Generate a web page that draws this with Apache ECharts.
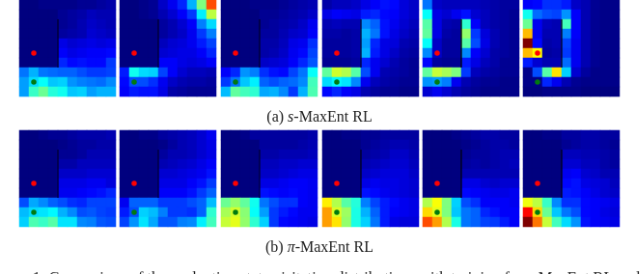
<!DOCTYPE html>
<html><head><meta charset="utf-8">
<script src="https://cdn.jsdelivr.net/npm/echarts@6/dist/echarts.min.js"></script>
<style>html,body{margin:0;padding:0;background:#fff;overflow:hidden;width:640px;height:274px}#c{width:664px;height:284px;transform:scale(0.965);transform-origin:0 0;filter:blur(0.3px)}</style>
</head><body><div id="c"></div>
<script>
const cols=[0,1,2,3,4,5,6,7,8,9];
const rows=[0,1,2,3,4,5,6,7,8,9];
const jet=['#00007f','#0000ff','#007fff','#00ffff','#7fff7f','#ffff00','#ff7f00','#ff0000','#7f0000'];
const sMaxEnt1=[[0,0,.01,.01,.01,.01,.02,.02,.03,.04],[0,0,0,0,.02,.03,.04,.06,.05,.05],[0,0,0,0,.02,.03,.05,.07,.06,.05],[0,0,0,0,.03,.04,.05,.08,.07,.06],[0,0,0,0,.1,.08,.09,.1,.09,.1],[0,0,0,0,.12,.1,.11,.12,.12,.13],[0,0,0,0,.16,.13,.14,.13,.13,.18],[.24,.3,.24,.23,.22,.22,.2,.18,.18,.19],[.28,.34,.38,.32,.33,.27,.25,.24,.23,.26],[.28,.43,.48,.41,.39,.32,.33,.28,.3,.3]];
const sMaxEnt2=[[0,0,.01,.02,.07,.11,.16,.3,.5,.8],[0,0,.01,.02,.05,.08,.12,.18,.36,.56],[0,0,0,0,.03,.05,.08,.12,.25,.34],[0,0,0,0,.03,.05,.07,.11,.18,.25],[0,0,0,0,.06,.08,.09,.11,.15,.19],[0,0,0,0,.08,.09,.1,.1,.12,.16],[0,0,0,0,.12,.12,.1,.09,.1,.12],[.15,.39,.34,.33,.19,.12,.08,.06,.06,.05],[.13,.2,.2,.17,.11,.07,.05,.04,.04,.03],[.12,.15,.14,.14,.1,.04,.03,.02,.02,.02]];
const sMaxEnt3=[[0,0,0,.01,.01,.01,.02,.03,.04,.05],[0,0,0,0,.02,.02,.03,.04,.05,.07],[0,0,0,0,.02,.03,.04,.05,.07,.11],[0,0,0,0,.03,.03,.05,.07,.08,.12],[0,0,0,0,.04,.04,.06,.1,.11,.17],[0,0,0,0,.04,.05,.07,.11,.13,.19],[0,0,0,0,.07,.08,.09,.12,.16,.21],[.12,.16,.27,.25,.17,.14,.13,.19,.24,.38],[.18,.24,.32,.36,.22,.2,.22,.23,.26,.44],[.31,.47,.44,.42,.29,.3,.26,.18,.3,.45]];
const sMaxEnt4=[[.04,.06,.06,.07,.1,.12,.14,.13,.09,.07],[.1,.12,.11,.1,.15,.16,.13,.12,.09,.07],[.05,.06,.05,.05,.26,.22,.14,.11,.08,.06],[.04,.04,.03,.04,.3,.24,.14,.1,.07,.05],[.03,.03,.03,.04,.28,.16,.1,.09,.05,.04],[.03,.03,.03,.04,.3,.15,.1,.07,.04,.03],[.02,.02,.02,.03,.16,.11,.08,.05,.03,.02],[.47,.58,.55,.46,.2,.11,.05,.04,.03,.02],[.34,.37,.35,.26,.11,.06,.04,.03,.02,.02],[.13,.16,.12,.1,.05,.03,.02,.02,.01,.01]];
const sMaxEnt5=[[.24,.07,.06,.06,.06,.06,.05,.04,.03,.03],[.38,.1,.08,.11,.14,.08,.06,.04,.03,.02],[.46,.1,.05,.04,.42,.12,.06,.04,.03,.02],[.47,.1,.04,.03,.52,.18,.09,.05,.03,.02],[.38,.07,.03,.03,.46,.2,.1,.05,.03,.02],[.26,.07,.03,.03,.26,.12,.08,.04,.03,.02],[.13,.03,.02,.02,.15,.1,.06,.04,.02,.02],[.47,.57,.54,.5,.18,.06,.04,.03,.02,.02],[.27,.28,.25,.11,.05,.03,.02,.02,.01,.01],[.08,.11,.08,.05,.03,.02,.01,.01,.01,.01]];
const sMaxEnt6=[[.12,.13,.17,.17,.15,.07,.05,.02,.01,.01],[.39,.23,.2,.19,.27,.12,.05,.02,.01,.01],[.48,.11,.06,.05,.44,.12,.05,.02,.01,.01],[.69,.11,.05,.05,.25,.12,.05,.02,.01,.01],[1,.13,.04,.05,.19,.11,.05,.02,.01,.01],[.69,.63,.03,.04,.18,.11,.05,.02,.01,.01],[.15,.08,.05,.05,.23,.11,.05,.02,.01,.01],[.01,.2,.46,.65,.33,.08,.03,.01,.01,.01],[.01,.01,.16,.11,.05,.02,.01,.01,.01,.01],[0,0,.01,.01,.01,.01,0,0,0,0]];
const piMaxEnt1=[[0,0,.01,.02,.02,.03,.04,.04,.04,.05],[0,0,0,0,.01,.02,.03,.03,.04,.04],[0,0,0,0,.02,.02,.03,.05,.05,.05],[0,0,0,0,.04,.04,.06,.06,.06,.06],[0,0,0,0,.07,.07,.07,.08,.08,.08],[0,0,0,0,.1,.1,.1,.11,.11,.09],[0,0,0,0,.11,.11,.12,.13,.14,.16],[.2,.29,.26,.22,.2,.17,.16,.19,.19,.19],[.31,.34,.35,.37,.3,.26,.2,.21,.19,.18],[.33,.45,.43,.46,.35,.35,.26,.25,.21,.2]];
const piMaxEnt2=[[0,0,.01,.01,.03,.04,.05,.06,.08,.11],[0,0,0,0,.01,.03,.05,.06,.08,.1],[0,0,0,0,.03,.05,.05,.06,.08,.1],[0,0,0,0,.05,.06,.07,.08,.1,.12],[0,0,0,0,.08,.08,.09,.1,.11,.14],[0,0,0,0,.1,.1,.1,.12,.14,.18],[0,0,0,0,.12,.12,.12,.14,.18,.22],[.11,.22,.22,.22,.18,.18,.18,.2,.22,.31],[.15,.2,.33,.31,.25,.18,.18,.17,.22,.42],[.19,.27,.35,.29,.21,.21,.25,.26,.36,.44]];
const piMaxEnt3=[[0,0,.01,.03,.03,.03,.03,.03,.03,.04],[0,0,0,0,.03,.03,.03,.03,.04,.05],[0,0,0,0,.04,.04,.05,.05,.05,.06],[0,0,0,0,.06,.06,.07,.07,.08,.08],[0,0,0,0,.07,.07,.08,.09,.1,.1],[0,0,0,0,.1,.1,.11,.12,.12,.11],[0,0,0,0,.14,.13,.12,.13,.12,.11],[.48,.52,.47,.39,.24,.2,.17,.17,.12,.11],[.54,.58,.51,.38,.28,.18,.15,.13,.11,.11],[.57,.6,.52,.42,.33,.18,.13,.12,.11,.1]];
const piMaxEnt4=[[0,0,.01,.01,.02,.02,.03,.03,.03,.03],[0,0,0,0,.02,.03,.04,.05,.05,.04],[0,0,0,0,.03,.04,.05,.07,.07,.05],[0,0,0,0,.05,.06,.07,.08,.08,.06],[0,0,0,0,.07,.08,.09,.09,.09,.07],[0,0,0,0,.1,.11,.1,.1,.09,.08],[0,0,0,0,.14,.13,.11,.1,.09,.08],[.64,.55,.46,.41,.25,.19,.15,.13,.11,.1],[.72,.59,.53,.4,.3,.22,.15,.12,.11,.1],[.72,.65,.52,.4,.33,.24,.15,.1,.09,.09]];
const piMaxEnt5=[[0,0,0,.01,.02,.03,.04,.04,.03,.03],[0,0,0,0,.01,.02,.03,.04,.04,.03],[0,0,0,0,.02,.03,.03,.04,.05,.05],[0,0,0,0,.03,.04,.03,.04,.05,.06],[0,0,0,0,.05,.05,.05,.05,.05,.05],[0,0,0,0,.1,.1,.08,.07,.08,.08],[0,0,0,0,.13,.12,.11,.1,.1,.11],[.55,.62,.5,.33,.2,.17,.12,.12,.12,.11],[.66,.6,.5,.32,.24,.22,.16,.14,.12,.12],[.8,.72,.55,.4,.24,.22,.19,.18,.15,.12]];
const piMaxEnt6=[[0,0,.01,.01,.03,.03,.04,.04,.03,.03],[0,0,0,0,.02,.03,.04,.04,.03,.02],[0,0,0,0,.06,.06,.05,.05,.04,.03],[0,0,0,0,.08,.08,.06,.06,.04,.03],[0,0,0,0,.11,.12,.08,.07,.05,.05],[0,0,0,0,.13,.14,.1,.09,.08,.06],[0,0,0,0,.15,.14,.12,.1,.08,.07],[.61,.56,.43,.26,.17,.17,.13,.12,.11,.1],[.87,.66,.48,.32,.24,.2,.13,.12,.1,.09],[1,.76,.57,.44,.34,.27,.14,.12,.11,.1]];
const panels=[sMaxEnt1,sMaxEnt2,sMaxEnt3,sMaxEnt4,sMaxEnt5,sMaxEnt6,piMaxEnt1,piMaxEnt2,piMaxEnt3,piMaxEnt4,piMaxEnt5,piMaxEnt6];
const goal=[1,5], start=[1,8], wall=[[4,2],[4,6]];
const lefts=[20,124,229,334,438,542], panelSize=100, tops=[0,135];
const wallColor=['#00002a','#00002a','#00002a','#000030','#000000','#000020','#000030','#000030','#000030','#000020','#000010','#000010'];

const grid=[],xAxis=[],yAxis=[],series=[];
panels.forEach((p,i)=>{
  grid.push({left:lefts[i%6],top:tops[i<6?0:1],width:panelSize,height:panelSize,show:false});
  xAxis.push({type:'category',gridIndex:i,data:cols,show:false,boundaryGap:true});
  yAxis.push({type:'category',gridIndex:i,data:rows,show:false,inverse:true,boundaryGap:true});
  const cells=[];
  p.forEach((r,y)=>r.forEach((v,x)=>cells.push([x,y,v])));
  series.push({type:'heatmap',xAxisIndex:i,yAxisIndex:i,data:cells,itemStyle:{borderWidth:0},emphasis:{disabled:true},progressive:0,z:2});
  series.push({type:'custom',xAxisIndex:i,yAxisIndex:i,data:wall,z:3,encode:{x:0,y:1},silent:true,renderItem:(params,api)=>{
    if(params.dataIndex!==0) return {type:'group'};
    const s=api.size([1,1]);
    const c=api.coord([wall[0][0],wall[0][1]]);
    const n=api.coord([wall[1][0],wall[1][1]]);
    return {type:'line',shape:{x1:c[0]-s[0]/2,y1:c[1]-s[1]/2,x2:n[0]-s[0]/2,y2:n[1]+s[1]/2},style:{stroke:wallColor[i],lineWidth:1.3}};
  }});
  series.push({type:'scatter',xAxisIndex:i,yAxisIndex:i,data:[goal],symbolSize:5.5,itemStyle:{color:'#ff0000',opacity:1},silent:true,z:4});
  series.push({type:'scatter',xAxisIndex:i,yAxisIndex:i,data:[start],symbolSize:5.5,itemStyle:{color:'#007a10',opacity:1},silent:true,z:4});
});
const serif='"Liberation Serif","Times New Roman",serif';
const txt=(x,y,text,size)=>({type:'text',x:x,y:y,silent:true,z:10,style:{text:text,fontFamily:serif,fontSize:size,fill:'#222',align:'center',verticalAlign:'middle',rich:{i:{fontStyle:'italic',fontFamily:serif,fontSize:size,fill:'#222'},n:{fontFamily:serif,fontSize:size,fill:'#222'}}}});
const chart=echarts.init(document.getElementById('c'),null,{renderer:'canvas'});
chart.setOption({animation:false,backgroundColor:'#fff',grid,xAxis,yAxis,series,
  visualMap:{show:false,min:0,max:1,seriesIndex:series.map((s,k)=>s.type==='heatmap'?k:-1).filter(k=>k>=0),inRange:{color:jet}},
  graphic:[
    txt(331,121.5,'{n|(a) }{i|s}{n|-MaxEnt RL}',16),
    txt(331,257,'{n|(b) }{i|π}{n|-MaxEnt RL}',16),
    txt(325,288.5,'{n|Figure 1: Comparison of the evaluation state visitation distributions with training for }{i|s}{n|-MaxEnt RL and}',16.4)
  ]});
</script></body></html>
